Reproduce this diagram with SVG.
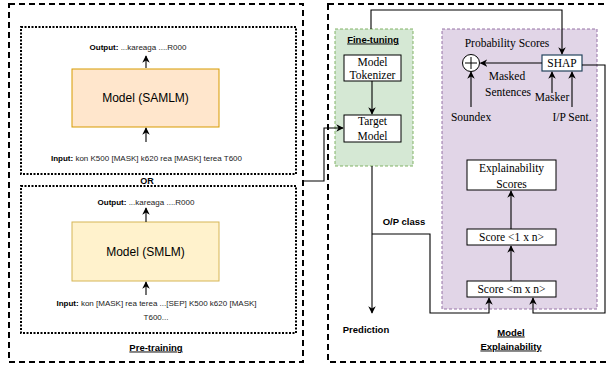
<svg xmlns="http://www.w3.org/2000/svg" width="607" height="369" viewBox="0 0 607 369">
<style>
.outer{fill:none;stroke:#000;stroke-width:2;stroke-dasharray:6 4}
.inner{fill:none;stroke:#000;stroke-width:2;stroke-dasharray:2 1.5}
.sans{font-family:"Liberation Sans",Arial,sans-serif;fill:#000}
.serif{font-family:"Liberation Serif","Times New Roman",serif;fill:#000;font-size:11.5px;text-anchor:middle}
.lbl{font-family:"Liberation Sans",Arial,sans-serif;font-weight:bold;font-size:9.5px;text-anchor:middle;fill:#000}
.ul{text-decoration:underline}
.small{font-size:8px;fill:#222}
.box{fill:#fff;stroke:#000;stroke-width:1}
.conn{fill:none;stroke:#000;stroke-width:1.1}
</style>
<defs>
<marker id="arr" viewBox="0 0 10 10" refX="9" refY="5" markerWidth="7.5" markerHeight="7.5" markerUnits="userSpaceOnUse" orient="auto">
<path d="M0,0 L10,5 L0,10 L3,5 Z" fill="#000"/>
</marker>
</defs>

<g id="pretraining">
<rect class="outer" x="9" y="4" width="294" height="358"/>
<text class="lbl ul" x="156" y="350.5">Pre-training</text>
<text class="lbl" x="147" y="183.5" style="font-size:9px">OR</text>
</g>

<g id="samlm-panel">
<rect class="inner" x="21" y="27" width="275" height="147"/>
<rect x="72" y="69" width="147" height="58" fill="#ffe6cc" stroke="#d79b00" stroke-width="1"/>
<text class="sans" x="145.5" y="102" font-size="12" text-anchor="middle">Model (SAMLM)</text>
<text class="sans small" x="138" y="50" text-anchor="middle"><tspan font-weight="bold" fill="#000">Output:</tspan> ...kareaga ....R000</text>
<text class="sans small" x="146.5" y="161" text-anchor="middle"><tspan font-weight="bold" fill="#000">Input:</tspan> kon K500 [MASK] k620 rea [MASK] terea T600</text>
</g>

<g id="smlm-panel">
<rect class="inner" x="21" y="186" width="275" height="147"/>
<rect x="72" y="222" width="147" height="59" fill="#fff2cc" stroke="#d6b656" stroke-width="1"/>
<text class="sans" x="145.5" y="255.5" font-size="12" text-anchor="middle">Model (SMLM)</text>
<text class="sans small" x="146" y="205" text-anchor="middle"><tspan font-weight="bold" fill="#000">Output:</tspan> ...kareaga ....R000</text>
<text class="sans small" x="156.5" y="306" text-anchor="middle"><tspan font-weight="bold" fill="#000">Input:</tspan> kon [MASK] rea terea ...[SEP]  K500 k620 [MASK]</text>
<text class="sans small" x="156" y="320" text-anchor="middle">T600...</text>
</g>

<g id="right-panel">
<rect class="outer" x="328" y="4" width="290" height="358"/>
</g>

<g id="finetuning">
<rect x="335" y="29" width="78" height="137" fill="#d5e8d4" stroke="#82b366" stroke-width="1" stroke-dasharray="3 2"/>
<text class="lbl ul" x="373" y="42.5">Fine-tuning</text>
</g>

<g id="tokenizer">
<rect class="box" x="344" y="55" width="57" height="26"/>
<text class="serif" x="372.5" y="66">Model</text>
<text class="serif" x="372.5" y="79">Tokenizer</text>
</g>

<g id="target-model">
<rect class="box" x="344" y="115" width="57" height="27"/>
<text class="serif" x="372.5" y="125">Target</text>
<text class="serif" x="372.5" y="140">Model</text>
</g>

<g id="explainability">
<rect x="442" y="29" width="155" height="280" fill="#e1d5e7" stroke="#9673a6" stroke-width="1" stroke-dasharray="3 2"/>
<text class="lbl ul" x="511" y="335.5">Model</text>
<text class="lbl ul" x="511" y="349.5">Explainability</text>
<text class="serif" x="507" y="47">Probability Scores</text>
<text class="serif" x="507" y="80">Masked</text>
<text class="serif" x="508" y="96">Sentences</text>
<text class="serif" x="552" y="101">Masker</text>
<text class="serif" x="471" y="121">Soundex</text>
<text class="serif" x="572" y="121">I/P Sent.</text>
</g>

<g id="plus">
<circle cx="471" cy="63" r="8.5" fill="#fff" stroke="#000" stroke-width="1"/>
<path d="M465,63 H477 M471,57 V69" stroke="#000" stroke-width="1"/>
</g>

<g id="shap">
<rect x="542" y="55" width="40" height="16" fill="#fff" stroke="#23445d" stroke-width="1.2"/>
<text class="serif" x="562" y="67">SHAP</text>
</g>

<g id="expl-scores">
<rect class="box" x="467" y="160" width="89" height="30"/>
<text class="serif" x="511.5" y="172">Explainability</text>
<text class="serif" x="511.5" y="188">Scores</text>
</g>

<g id="score-1xn">
<rect class="box" x="467" y="229" width="89" height="16"/>
<text class="serif" x="511.5" y="241">Score &lt;1 x n&gt;</text>
</g>

<g id="score-mxn">
<rect class="box" x="467" y="281" width="89" height="16"/>
<text class="serif" x="511.5" y="293">Score &lt;m x n&gt;</text>
</g>

<g id="labels">
<text class="lbl" x="404" y="224.5">O/P class</text>
<text class="lbl" x="366" y="332.5">Prediction</text>
</g>

<g id="connectors">
<path class="conn" d="M146,68 V56" marker-end="url(#arr)"/>
<path class="conn" d="M146,142 V128" marker-end="url(#arr)"/>
<path class="conn" d="M146,222 V208" marker-end="url(#arr)"/>
<path class="conn" d="M146,295 V282" marker-end="url(#arr)"/>
<path class="conn" d="M303,181 H324 V128 H343" marker-end="url(#arr)"/>
<path class="conn" d="M372,81 V114" marker-end="url(#arr)"/>
<path class="conn" d="M371,29 V10 H562 V54" marker-end="url(#arr)"/>
<path class="conn" d="M372,166 V313" marker-end="url(#arr)"/>
<path class="conn" d="M372,234 H430 V313 H489 V298" marker-end="url(#arr)"/>
<path class="conn" d="M582,65 H605 V313 H533 V298" marker-end="url(#arr)"/>
<path class="conn" d="M542,63 H480.5" marker-end="url(#arr)"/>
<path class="conn" d="M471,107 V72" marker-end="url(#arr)"/>
<path class="conn" d="M552,93 V72" marker-end="url(#arr)"/>
<path class="conn" d="M572,107 V72" marker-end="url(#arr)"/>
<path class="conn" d="M511,281 V246" marker-end="url(#arr)"/>
<path class="conn" d="M511,229 V191" marker-end="url(#arr)"/>
</g>
</svg>
